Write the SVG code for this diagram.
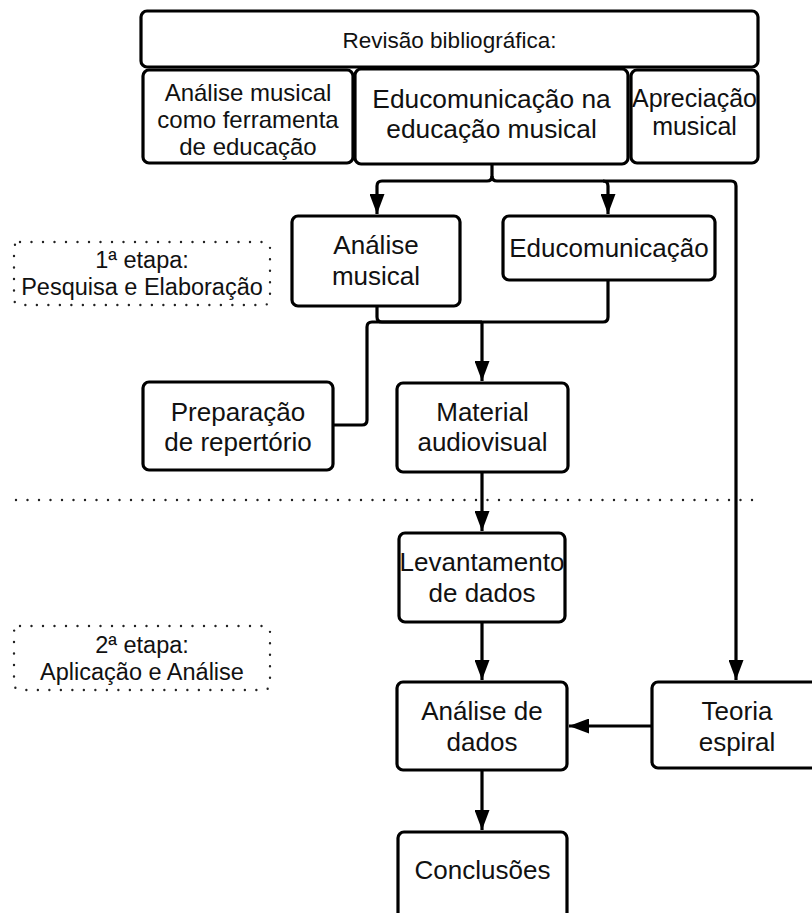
<svg xmlns="http://www.w3.org/2000/svg" width="812" height="913" viewBox="0 0 812 913">
<defs>
<style>
.box{fill:#fff;stroke:#000;stroke-width:3.2}
.t{font-family:"Liberation Sans",Arial,sans-serif;fill:#111;text-anchor:middle}
.m{font-size:26px}
.s{font-size:24px}
.g{font-size:23.5px}
.c{fill:none;stroke:#000;stroke-width:3.2;stroke-linejoin:round}
.dot{fill:none;stroke:#222;stroke-width:2.4;stroke-linecap:round;stroke-dasharray:0 11.5}
</style>
<marker id="ah" viewBox="0 0 20 15" refX="20" refY="7.5" markerWidth="20" markerHeight="15" markerUnits="userSpaceOnUse" orient="auto">
<path d="M0,0 L20,7.5 L0,15 Z" fill="#000"/>
</marker>
</defs>
<rect width="812" height="913" fill="#fff"/>

<g id="stage1">
<rect class="dot" x="14" y="242" width="256" height="63" rx="6"/>
<text class="t g" x="142" y="268">1ª etapa:</text>
<text class="t g" x="142" y="295">Pesquisa e Elaboração</text>
</g>
<g id="stage2">
<rect class="dot" x="14" y="626" width="256" height="64" rx="6"/>
<text class="t g" x="142" y="653">2ª etapa:</text>
<text class="t g" x="142" y="680">Aplicação e Análise</text>
</g>
<g id="divider">
<line class="dot" x1="16" y1="500" x2="760" y2="500"/>
</g>

<g id="connectors">
<path class="c" d="M492,164 V176 Q492,181 487,181 H382 Q377,181 377,186 V214" marker-end="url(#ah)"/>
<path class="c" d="M492,176 Q492,181 497,181 H603 Q608,181 608,186 V214" marker-end="url(#ah)"/>
<path class="c" d="M603,181 H731 Q736,181 736,186 V680" marker-end="url(#ah)"/>
<path class="c" d="M377,307 V317 Q377,322 382,322 H603 Q608,322 608,317 V281"/>
<path class="c" d="M482,322 V381" marker-end="url(#ah)"/>
<path class="c" d="M482,322 H372 Q367,322 367,327 V420 Q367,425 362,425 H334"/>
<path class="c" d="M482,472 V531" marker-end="url(#ah)"/>
<path class="c" d="M482,622 V680" marker-end="url(#ah)"/>
<path class="c" d="M652,726 H569" marker-end="url(#ah)"/>
<path class="c" d="M482,770 V830" marker-end="url(#ah)"/>
</g>

<g id="revisao">
<rect class="box" x="141" y="11" width="617" height="56" rx="6"/>
<text class="t" font-size="22.5" x="449.5" y="48">Revisão bibliográfica:</text>
</g>
<g id="analise-ferramenta">
<rect class="box" x="143" y="70" width="210" height="93" rx="6"/>
<text class="t s" x="248" y="101">Análise musical</text>
<text class="t s" x="248" y="128">como ferramenta</text>
<text class="t s" x="248" y="155">de educação</text>
</g>
<g id="educom-musical">
<rect class="box" x="355" y="69" width="273" height="95" rx="6"/>
<text class="t" font-size="26.3" x="491.5" y="108">Educomunicação na</text>
<text class="t" font-size="26.3" x="491.5" y="138">educação musical</text>
</g>
<g id="apreciacao">
<rect class="box" x="631" y="70" width="127" height="93" rx="6"/>
<text class="t" font-size="25" x="694.5" y="107">Apreciação</text>
<text class="t" font-size="25" x="694.5" y="135">musical</text>
</g>
<g id="analise-musical">
<rect class="box" x="292" y="216" width="168" height="90" rx="6"/>
<text class="t m" x="376" y="254">Análise</text>
<text class="t m" x="376" y="285">musical</text>
</g>
<g id="educomunicacao">
<rect class="box" x="503" y="216" width="212" height="64" rx="6"/>
<text class="t m" x="609" y="257">Educomunicação</text>
</g>
<g id="preparacao">
<rect class="box" x="143" y="382" width="190" height="88" rx="6"/>
<text class="t m" x="238" y="421">Preparação</text>
<text class="t m" x="238" y="451">de repertório</text>
</g>
<g id="material">
<rect class="box" x="397" y="383" width="171" height="89" rx="6"/>
<text class="t m" x="482.5" y="421">Material</text>
<text class="t m" x="482.5" y="451">audiovisual</text>
</g>
<g id="levantamento">
<rect class="box" x="399" y="533" width="166" height="89" rx="6" stroke-width="3.6"/>
<text class="t m" x="482" y="571">Levantamento</text>
<text class="t m" x="482" y="602">de dados</text>
</g>
<g id="analise-dados">
<rect class="box" x="397" y="682" width="170" height="88" rx="6"/>
<text class="t m" x="482" y="720">Análise de</text>
<text class="t m" x="482" y="751">dados</text>
</g>
<g id="teoria">
<rect class="box" x="652" y="682" width="170" height="86" rx="6"/>
<text class="t m" x="737" y="720">Teoria</text>
<text class="t m" x="737" y="751">espiral</text>
</g>
<g id="conclusoes">
<rect class="box" x="398" y="832" width="169" height="88" rx="6"/>
<text class="t m" x="482.5" y="879">Conclusões</text>
</g>
</svg>
